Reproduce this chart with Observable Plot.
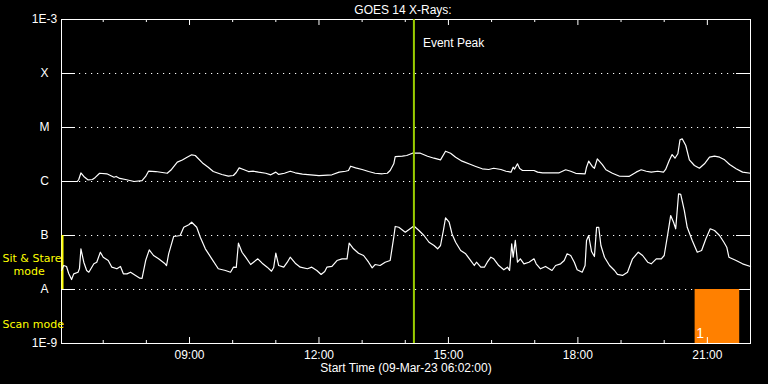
<!DOCTYPE html>
<html>
<head>
<meta charset="utf-8">
<script src="https://cdn.jsdelivr.net/npm/d3@7"></script>
<script src="https://cdn.jsdelivr.net/npm/@observablehq/plot@0.6"></script>
<style>
  html, body { margin: 0; padding: 0; background: #000; }
  #chart svg { display: block; }
</style>
</head>
<body>
<div id="chart"></div>
<script>
// ---- Data (GOES 14 X-ray flux, W/m^2, 09-Mar-23) ----
const title = "GOES 14 X-Rays:";
const xLabel = "Start Time (09-Mar-23 06:02:00)";
const startTime = "06:02";
const endTime = "22:00";
const eventPeakTime = "14:12";
const scanStart = "20:43";
const scanEnd = "21:45";
const scanLabel = "1";

const yTickValues = [1e-9, 1e-8, 1e-7, 1e-6, 1e-5, 1e-4, 1e-3];
const yTickLabels = ["1E-9", "A", "B", "C", "M", "X", "1E-3"];
const gridLevels = [1e-8, 1e-7, 1e-6, 1e-5, 1e-4];

const hourTicks = ["07:00","08:00","09:00","10:00","11:00","12:00","13:00","14:00","15:00","16:00","17:00","18:00","19:00","20:00","21:00","22:00"];
const majorTicks = ["09:00","12:00","15:00","18:00","21:00"];

// Long channel (1-8 A)
const longTimes = ["06:02","06:24","06:26","06:29","06:33","06:39","06:45","06:49","06:55","07:05","07:15","07:18","07:23","07:31","07:43","07:54","07:59","08:03","08:13","08:29","08:35","08:43","08:50","08:56","09:03","09:08","09:19","09:26","09:33","09:45","09:54","10:01","10:05","10:09","10:15","10:22","10:29","10:36","10:46","10:53","11:00","11:04","11:12","11:20","11:27","11:37","12:00","12:18","12:28","12:37","12:41","12:44","12:51","13:00","13:09","13:18","13:28","13:35","13:39","13:44","13:46","13:56","14:02","14:10","14:21","14:31","14:40","14:49","14:56","15:03","15:10","15:19","15:31","15:38","15:47","15:56","16:03","16:13","16:20","16:27","16:30","16:32","16:36","16:39","16:43","16:59","17:04","17:11","17:25","17:34","17:43","17:50","17:57","18:10","18:12","18:15","18:20","18:23","18:27","18:34","18:39","18:48","18:58","19:11","19:21","19:28","19:35","19:42","19:51","19:59","20:02","20:07","20:11","20:15","20:19","20:22","20:25","20:30","20:35","20:42","20:49","20:56","21:03","21:10","21:17","21:24","21:31","21:40","21:49","22:00"];
const longFlux = [1.0e-6,1.0e-6,1.09e-6,1.44e-6,1.24e-6,1.07e-6,1.09e-6,1.19e-6,1.42e-6,1.39e-6,1.20e-6,1.24e-6,1.14e-6,1.09e-6,1.0e-6,1.04e-6,1.24e-6,1.55e-6,1.53e-6,1.42e-6,1.67e-6,2.28e-6,2.50e-6,2.78e-6,3.12e-6,3.03e-6,2.15e-6,1.84e-6,1.53e-6,1.35e-6,1.26e-6,1.29e-6,1.47e-6,1.79e-6,1.67e-6,1.53e-6,1.55e-6,1.49e-6,1.42e-6,1.33e-6,1.49e-6,1.35e-6,1.42e-6,1.55e-6,1.45e-6,1.37e-6,1.29e-6,1.33e-6,1.49e-6,1.55e-6,1.60e-6,1.92e-6,1.79e-6,1.67e-6,1.53e-6,1.42e-6,1.39e-6,1.42e-6,1.60e-6,2.13e-6,2.90e-6,2.94e-6,3.03e-6,3.34e-6,3.34e-6,2.94e-6,2.70e-6,2.52e-6,3.64e-6,3.34e-6,2.82e-6,2.38e-6,2.06e-6,1.90e-6,1.72e-6,1.67e-6,1.76e-6,1.67e-6,1.55e-6,1.49e-6,1.84e-6,1.70e-6,2.13e-6,1.74e-6,1.60e-6,1.60e-6,1.49e-6,1.45e-6,1.45e-6,1.45e-6,1.65e-6,1.55e-6,1.42e-6,1.39e-6,1.84e-6,2.38e-6,1.90e-6,1.76e-6,2.63e-6,2.06e-6,1.65e-6,1.42e-6,1.25e-6,1.24e-6,1.49e-6,1.65e-6,1.55e-6,1.49e-6,1.55e-6,1.49e-6,1.67e-6,2.45e-6,3.16e-6,2.70e-6,3.26e-6,5.93e-6,6.17e-6,4.64e-6,2.52e-6,1.98e-6,1.76e-6,2.13e-6,2.82e-6,2.94e-6,2.82e-6,2.52e-6,2.06e-6,1.72e-6,1.49e-6,1.42e-6];

// Short channel (0.5-4 A)
const shortTimes = ["06:02","06:05","06:09","06:12","06:16","06:19","06:25","06:27","06:29","06:33","06:37","06:40","06:47","06:51","06:56","07:00","07:07","07:12","07:19","07:24","07:28","07:33","07:38","07:45","07:51","07:54","07:59","08:04","08:10","08:17","08:26","08:28","08:31","08:38","08:43","08:47","08:52","08:59","09:03","09:10","09:15","09:22","09:31","09:40","09:50","09:57","10:01","10:05","10:08","10:13","10:18","10:25","10:29","10:35","10:41","10:48","10:54","10:57","11:00","11:04","11:11","11:16","11:20","11:27","11:34","11:44","11:50","11:57","12:03","12:08","12:11","12:18","12:25","12:32","12:39","12:42","12:48","12:55","13:02","13:09","13:14","13:18","13:25","13:32","13:39","13:44","13:46","13:51","14:00","14:12","14:19","14:26","14:33","14:40","14:45","14:49","14:53","14:56","15:01","15:05","15:10","15:17","15:24","15:31","15:36","15:39","15:45","15:50","15:54","15:59","16:03","16:10","16:17","16:22","16:25","16:28","16:30","16:33","16:36","16:40","16:45","16:52","16:59","17:02","17:08","17:15","17:24","17:29","17:36","17:41","17:45","17:50","17:55","17:59","18:06","18:10","18:12","18:15","18:19","18:23","18:26","18:29","18:32","18:37","18:44","18:51","18:55","19:02","19:09","19:16","19:24","19:30","19:37","19:42","19:49","19:56","20:00","20:05","20:09","20:13","20:16","20:20","20:23","20:28","20:32","20:39","20:46","20:52","20:58","21:04","21:10","21:17","21:23","21:27","21:30","21:40","21:49","22:00"];
const shortFlux = [2.25e-8,2.78e-8,2.67e-8,1.98e-8,1.53e-8,1.95e-8,2.09e-8,2.45e-8,5.67e-8,3.20e-8,2.25e-8,2.09e-8,2.99e-8,3.20e-8,4.90e-8,3.96e-8,3.44e-8,2.59e-8,2.42e-8,2.67e-8,1.95e-8,1.95e-8,2.09e-8,1.82e-8,1.62e-8,1.60e-8,3.44e-8,5.43e-8,4.26e-8,3.70e-8,2.99e-8,2.78e-8,4.58e-8,9.60e-8,9.80e-8,1.00e-7,1.42e-7,1.58e-7,1.76e-7,1.42e-7,9.30e-8,5.67e-8,3.70e-8,2.42e-8,2.25e-8,2.09e-8,2.59e-8,2.56e-8,7.20e-8,4.90e-8,3.96e-8,2.90e-8,3.20e-8,3.70e-8,3.07e-8,2.59e-8,2.18e-8,2.55e-8,4.70e-8,2.78e-8,2.59e-8,3.20e-8,3.96e-8,3.07e-8,2.59e-8,2.42e-8,2.59e-8,2.25e-8,1.90e-8,2.15e-8,2.59e-8,2.67e-8,3.44e-8,3.70e-8,3.70e-8,7.20e-8,5.67e-8,4.70e-8,4.26e-8,3.20e-8,2.52e-8,2.90e-8,2.78e-8,3.20e-8,3.44e-8,9.30e-8,1.47e-7,1.42e-7,1.15e-7,1.50e-7,1.24e-7,1.00e-7,7.50e-8,6.53e-8,5.67e-8,6.53e-8,1.24e-7,2.13e-7,1.76e-7,1.07e-7,7.50e-8,5.27e-8,4.58e-8,3.44e-8,2.78e-8,3.20e-8,2.59e-8,2.59e-8,3.20e-8,3.96e-8,3.70e-8,2.78e-8,2.32e-8,2.59e-8,2.25e-8,7.00e-8,3.96e-8,8.10e-8,3.20e-8,3.70e-8,2.99e-8,3.20e-8,3.70e-8,2.99e-8,2.42e-8,2.67e-8,2.25e-8,2.78e-8,2.99e-8,3.44e-8,4.58e-8,4.26e-8,3.20e-8,2.32e-8,2.09e-8,2.78e-8,8.10e-8,1.00e-7,5.05e-8,4.08e-8,1.42e-7,1.42e-7,6.53e-8,3.96e-8,2.78e-8,2.25e-8,1.90e-8,1.82e-8,2.09e-8,3.70e-8,4.90e-8,4.26e-8,3.20e-8,2.99e-8,3.70e-8,3.70e-8,4.26e-8,1.07e-7,2.34e-7,1.76e-7,1.33e-7,5.93e-7,5.76e-7,2.90e-7,1.42e-7,8.10e-8,4.90e-8,5.27e-8,8.70e-8,1.33e-7,1.24e-7,1.00e-7,7.50e-8,6.07e-8,3.96e-8,3.44e-8,2.99e-8,2.67e-8];

// ---- Build tables ----
const t = s => { const [h, m] = s.split(":").map(Number); return new Date(Date.UTC(2023, 2, 9, h, m)); };
const longData = longTimes.map((s, i) => ({ time: t(s), flux: longFlux[i] }));
const shortData = shortTimes.map((s, i) => ({ time: t(s), flux: shortFlux[i] }));
const yTicks = yTickValues.map((v, i) => ({ v, label: yTickLabels[i] }));
const minorTicks = hourTicks.filter(h => !majorTicks.includes(h)).map(t);
const majors = majorTicks.map(t);
const fmt = d3.utcFormat("%H:%M");

const FRAME_W = 768 - 61 - 18;
const FRAME_H = 384 - 19 - 41;
const WHITE = "#ffffff";
const YELLOW = "#ffff00";
const WIDE = "'DejaVu Sans', sans-serif";

const chart = Plot.plot({
  width: 768,
  height: 384,
  marginLeft: 61,
  marginRight: 18,
  marginTop: 19,
  marginBottom: 41,
  style: { background: "#000", color: WHITE, fontFamily: "'Liberation Sans', Arial, sans-serif", fontSize: "12px", overflow: "visible" },
  x: { type: "utc", domain: [t(startTime), t(endTime)], axis: null },
  y: { type: "log", domain: [1e-9, 1e-3], axis: null },
  marks: [
    // dotted grid
    Plot.ruleY(gridLevels, { stroke: WHITE, strokeDasharray: "1.2,4.8", insetLeft: 18, insetRight: 14 }),
    // solid short ticks left and right
    Plot.ruleY(gridLevels, { stroke: WHITE, insetRight: FRAME_W - 14 }),
    Plot.ruleY(gridLevels, { stroke: WHITE, insetLeft: FRAME_W - 14 }),
    // scan mode block
    Plot.rect([{ a: t(scanStart), b: t(scanEnd) }], { x1: "a", x2: "b", y1: yTickValues[0], y2: yTickValues[1], fill: "#ff8000" }),
    Plot.text([scanLabel], { x: t(scanStart), frameAnchor: "bottom", dx: 5, dy: -10, lineAnchor: "middle", text: d => d, fill: WHITE, fontSize: 14, textAnchor: "middle" }),
    // x ticks bottom & top (inward)
    Plot.ruleX(minorTicks, { stroke: WHITE, insetTop: FRAME_H - 3 }),
    Plot.ruleX(majors, { stroke: WHITE, insetTop: FRAME_H - 6 }),
    Plot.ruleX(minorTicks, { stroke: WHITE, insetBottom: FRAME_H - 3 }),
    Plot.ruleX(majors, { stroke: WHITE, insetBottom: FRAME_H - 6 }),
    Plot.frame({ stroke: WHITE }),
    // sit & stare indicator on left axis
    Plot.ruleX([t(startTime)], { y1: yTickValues[1], y2: yTickValues[2], stroke: YELLOW, strokeWidth: 2, dx: 1 }),
    // data
    Plot.line(longData, { x: "time", y: "flux", stroke: WHITE, strokeWidth: 1.2 }),
    Plot.line(shortData, { x: "time", y: "flux", stroke: WHITE, strokeWidth: 1.2 }),
    // event peak
    Plot.ruleX([t(eventPeakTime)], { stroke: "#99cc00", strokeWidth: 2 }),
    Plot.text(["Event Peak"], { x: t(eventPeakTime), frameAnchor: "top", dx: 9, dy: 24, lineAnchor: "middle", textAnchor: "start", text: d => d, fill: WHITE }),
    // y labels
    Plot.text(yTicks, { y: "v", text: "label", frameAnchor: "left", dx: -17, lineAnchor: "middle", textAnchor: "middle", fill: WHITE }),
    // x labels
    Plot.text(majors, { x: d => d, text: d => fmt(d), frameAnchor: "bottom", dy: 12, lineAnchor: "middle", fill: WHITE }),
    Plot.text([xLabel], { frameAnchor: "bottom", dy: 25, lineAnchor: "middle", text: d => d, fill: WHITE }),
    Plot.text([title], { frameAnchor: "top", dy: -9, dx: -3, lineAnchor: "middle", text: d => d, fill: WHITE }),
    // mode labels
    Plot.text(["Sit & Stare"], { frameAnchor: "bottom-left", dx: -59, dy: -(343 - 258), lineAnchor: "middle", textAnchor: "start", text: d => d, fill: YELLOW, fontSize: 11, fontFamily: WIDE }),
    Plot.text(["mode"], { frameAnchor: "bottom-left", dx: -48, dy: -(343 - 271), lineAnchor: "middle", textAnchor: "start", text: d => d, fill: YELLOW, fontSize: 11, fontFamily: WIDE }),
    Plot.text(["Scan mode"], { frameAnchor: "bottom-left", dx: -59, dy: -(343 - 324), lineAnchor: "middle", textAnchor: "start", text: d => d, fill: YELLOW, fontSize: 11, fontFamily: WIDE })
  ]
});
document.getElementById("chart").append(chart);
</script>
</body>
</html>
